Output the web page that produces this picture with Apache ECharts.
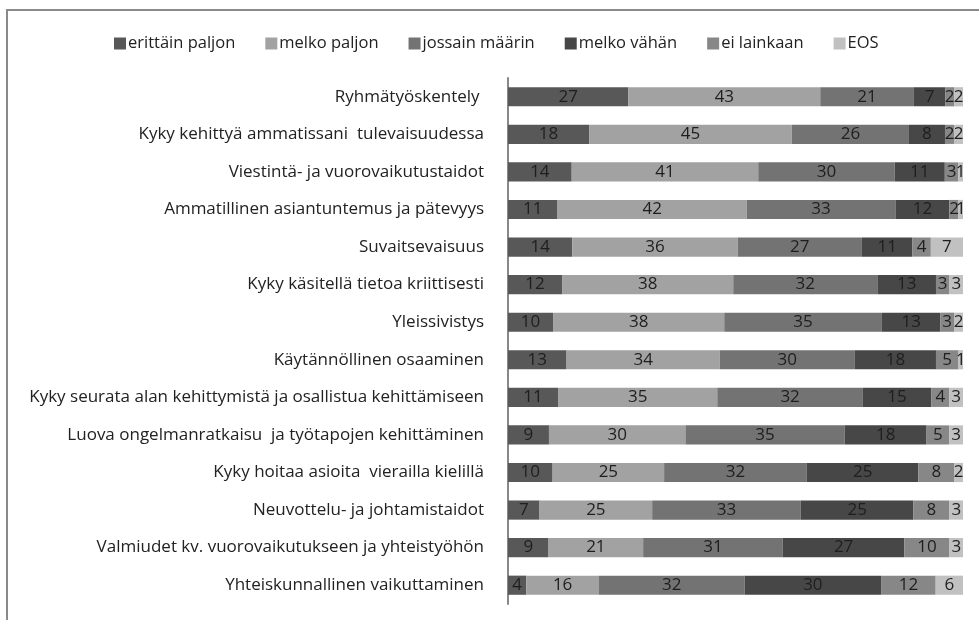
<!DOCTYPE html>
<html>
<head>
<meta charset="utf-8">
<script src="https://cdn.jsdelivr.net/npm/echarts@6/dist/echarts.min.js"></script>
<style>
  html, body { margin: 0; padding: 0; background: #fff; }
  #main { width: 979px; height: 620px; }
</style>
</head>
<body>
<div id="main"></div>
<script>
const categories = [
    'Ryhmätyöskentely ',
    'Kyky kehittyä ammatissani  tulevaisuudessa',
    'Viestintä- ja vuorovaikutustaidot',
    'Ammatillinen asiantuntemus ja pätevyys',
    'Suvaitsevaisuus',
    'Kyky käsitellä tietoa kriittisesti',
    'Yleissivistys',
    'Käytännöllinen osaaminen',
    'Kyky seurata alan kehittymistä ja osallistua kehittämiseen',
    'Luova ongelmanratkaisu  ja työtapojen kehittäminen',
    'Kyky hoitaa asioita  vierailla kielillä',
    'Neuvottelu- ja johtamistaidot',
    'Valmiudet kv. vuorovaikutukseen ja yhteistyöhön',
    'Yhteiskunnallinen vaikuttaminen'
];
const seriesNames = ['erittäin paljon', 'melko paljon', 'jossain määrin', 'melko vähän', 'ei lainkaan', 'EOS'];
const colors = ['#585858', '#a2a2a2', '#737373', '#474747', '#878787', '#c1c1c1'];

const erittainPaljon = [27, 18, 14, 11, 14, 12, 10, 13, 11, 9, 10, 7, 9, 4];
const melkoPaljon    = [43, 45, 41, 42, 36, 38, 38, 34, 35, 30, 25, 25, 21, 16];
const jossainMaarin  = [21, 26, 30, 33, 27, 32, 35, 30, 32, 35, 32, 33, 31, 32];
const melkoVahan     = [7, 8, 11, 12, 11, 13, 13, 18, 15, 18, 25, 25, 27, 30];
const eiLainkaan     = [2, 2, 3, 2, 4, 3, 3, 5, 4, 5, 8, 8, 10, 12];
const eos            = [2, 2, 1, 1, 7, 3, 2, 1, 3, 3, 2, 3, 3, 6];

const raw = [erittainPaljon, melkoPaljon, jossainMaarin, melkoVahan, eiLainkaan, eos];
// rivit skaalataan 100 %:iin, kuten alkuperäisessä kaaviossa
const totals = categories.map((c, i) => raw.reduce((s, arr) => s + arr[i], 0));

const font = 'Open Sans';
const myChart = echarts.init(document.getElementById('main'));

const option = {
    animation: false,
    textStyle: { fontFamily: font },
    graphic: [{
        type: 'rect',
        shape: { x: 7, y: 10, width: 1000, height: 700 },
        style: { fill: 'none', stroke: '#8a8a8a', lineWidth: 2 },
        silent: true
    }],
    legend: {
        top: 30,
        left: 109,
        itemWidth: 12,
        itemHeight: 12,
        itemGap: 30,
        icon: 'rect',
        textStyle: { fontFamily: font, fontSize: 16.5, color: '#222', padding: [0, 0, 0, -3] },
        data: seriesNames
    },
    grid: { left: 508, right: 16, top: 78, bottom: 16, containLabel: false },
    xAxis: {
        type: 'value',
        min: 0,
        max: 100,
        show: false
    },
    yAxis: {
        type: 'category',
        inverse: true,
        data: categories,
        axisLine: { show: true, lineStyle: { color: '#888', width: 2 } },
        axisTick: { show: false },
        axisLabel: { fontFamily: font, fontSize: 17, color: '#222', margin: 24 }
    },
    series: raw.map((arr, k) => ({
        name: seriesNames[k],
        type: 'bar',
        stack: 'all',
        barWidth: '51%',
        itemStyle: { color: colors[k] },
        label: {
            show: true,
            position: 'inside',
            fontFamily: font,
            fontSize: 17,
            color: '#1e1e1e',
            formatter: p => arr[p.dataIndex]
        },
        data: arr.map((v, i) => v / totals[i] * 100)
    }))
};
myChart.setOption(option);
</script>
</body>
</html>
